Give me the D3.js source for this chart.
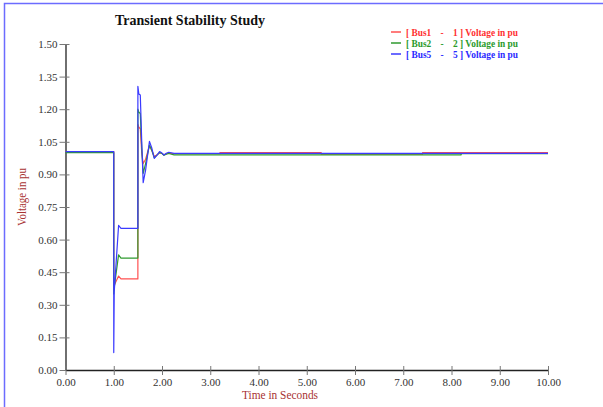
<!DOCTYPE html>
<html>
<head>
<meta charset="utf-8">
<script src="https://cdn.jsdelivr.net/npm/d3@7"></script>
<style>
  html, body { margin: 0; padding: 0; background: #fff; }
  svg { display: block; }
  text { font-family: "Liberation Serif", "Times New Roman", serif; }
</style>
</head>
<body>
<svg id="chart" width="603" height="407"></svg>
<script>
// ---- data ----
const time = [0, 1.0, 1.0, 1.01, 1.1, 1.15, 1.5, 1.5, 1.52, 1.55, 1.58, 1.61, 1.66, 1.74, 1.79, 1.84, 1.9, 1.95, 2.0, 2.04, 2.09, 2.14, 2.25, 3.2, 3.2, 5.3, 5.3, 7.4, 7.4, 8.2, 8.2, 10.0];
const bus1 = [1.005, 1.005, 0.37, 0.39, 0.432, 0.419, 0.419, 1.13, 1.117, 1.11, 1.0, 0.95, 0.97, 1.032, 1.01, 0.982, 0.99, 1.0, 0.996, 0.99, 0.995, 0.998, 0.995, 0.995, 1.0, 1.0, 0.993, 0.993, 1.0, 1.0, 1.0, 1.0];
const bus2 = [1.0, 1.0, 0.35, 0.38, 0.53, 0.515, 0.515, 1.2, 1.186, 1.18, 1.02, 0.905, 0.95, 1.035, 1.01, 0.976, 0.99, 1.0, 0.996, 0.988, 0.993, 0.996, 0.99, 0.99, 0.99, 0.99, 0.99, 0.99, 0.99, 0.99, 0.995, 0.995];
const bus5 = [1.005, 1.005, 0.08, 0.36, 0.665, 0.652, 0.652, 1.305, 1.27, 1.265, 1.05, 0.862, 0.92, 1.052, 1.02, 0.974, 0.99, 1.005, 0.998, 0.989, 0.997, 1.002, 0.997, 0.997, 0.997, 0.997, 0.997, 0.997, 0.997, 0.997, 0.997, 0.997];
const seriesNames = ["[ Bus1    -    1 ] Voltage in pu", "[ Bus2    -    2 ] Voltage in pu", "[ Bus5    -    5 ] Voltage in pu"];
const seriesColors = ["#ff5050", "#2f9a2f", "#3a3aff"];
const legendColors = ["#ff3030", "#2a9a2a", "#2a2aff"];
const xTicks = [0, 1, 2, 3, 4, 5, 6, 7, 8, 9, 10];
const yTicks = [0, 0.15, 0.30, 0.45, 0.60, 0.75, 0.90, 1.05, 1.20, 1.35, 1.50];

// ---- chart ----
const svg = d3.select("#chart");

// blue frame (left + top)
svg.append("path")
  .attr("d", "M4.5,407 L4.5,3.5 L603,3.5")
  .attr("fill", "none").attr("stroke", "#6c6cff").attr("stroke-width", 1.5);

const x0 = 65.5;
const x = d3.scaleLinear().domain([0, 10]).range([x0, 548]);
const y = d3.scaleLinear().domain([0, 1.5]).range([370, 44]);

// y axis
const yAxis = svg.append("g").attr("transform", `translate(${x0},0)`)
  .call(d3.axisLeft(y).tickValues(yTicks).tickFormat(d3.format(".2f")).tickSize(6).tickSizeOuter(0));
yAxis.select(".domain").attr("stroke", "#222").attr("stroke-width", 1.3);
yAxis.selectAll(".tick line").attr("stroke", "#777").attr("x2", -6).attr("x1", 4);
yAxis.selectAll(".tick text").attr("x", -8).attr("fill", "#333")
  .style("font-size", "11px").style("font-family", "Liberation Serif");

// x axis
const xAxis = svg.append("g").attr("transform", "translate(0,370)")
  .call(d3.axisBottom(x).tickValues(xTicks).tickFormat(d3.format(".2f")).tickSize(5).tickSizeOuter(0));
xAxis.select(".domain").attr("stroke", "#222").attr("stroke-width", 1.3);
xAxis.selectAll(".tick line").attr("stroke", "#777").attr("y1", -4).attr("y2", 5);
xAxis.selectAll(".tick text").attr("y", 8).attr("fill", "#333")
  .style("font-size", "11px").style("font-family", "Liberation Serif");

// lines
const allSeries = [bus1, bus2, bus5];
const line = d3.line().x((d, i) => x(time[i])).y(d => y(d));
allSeries.forEach((vals, k) => {
  svg.append("path").datum(vals)
    .attr("d", line)
    .attr("fill", "none")
    .attr("stroke", seriesColors[k])
    .attr("stroke-width", 1.2)
    .attr("stroke-linejoin", "round");
});

// title
svg.append("text")
  .attr("x", 190).attr("y", 25)
  .attr("text-anchor", "middle")
  .attr("font-weight", "bold").attr("font-size", 15).attr("fill", "#111")
  .attr("textLength", 150).attr("lengthAdjust", "spacingAndGlyphs")
  .text("Transient Stability Study");

// legend
seriesNames.forEach((name, k) => {
  const cy = 32 + k * 11;
  svg.append("line")
    .attr("x1", 391).attr("x2", 401).attr("y1", cy).attr("y2", cy)
    .attr("stroke", seriesColors[k]).attr("stroke-width", 1.5);
  svg.append("text")
    .attr("x", 406).attr("y", cy + 3.5)
    .attr("font-size", 10).attr("font-weight", "bold")
    .attr("fill", legendColors[k])
    .attr("xml:space", "preserve").style("white-space", "pre")
    .attr("textLength", 112).attr("lengthAdjust", "spacingAndGlyphs")
    .text(name);
});

// axis titles
svg.append("text")
  .attr("transform", "translate(26,197) rotate(-90)")
  .attr("text-anchor", "middle")
  .attr("font-size", 12).attr("fill", "#a83232")
  .attr("textLength", 58).attr("lengthAdjust", "spacingAndGlyphs")
  .text("Voltage in pu");

svg.append("text")
  .attr("x", 280).attr("y", 399)
  .attr("text-anchor", "middle")
  .attr("font-size", 12).attr("fill", "#a83232")
  .attr("textLength", 76).attr("lengthAdjust", "spacingAndGlyphs")
  .text("Time in Seconds");
</script>
</body>
</html>
